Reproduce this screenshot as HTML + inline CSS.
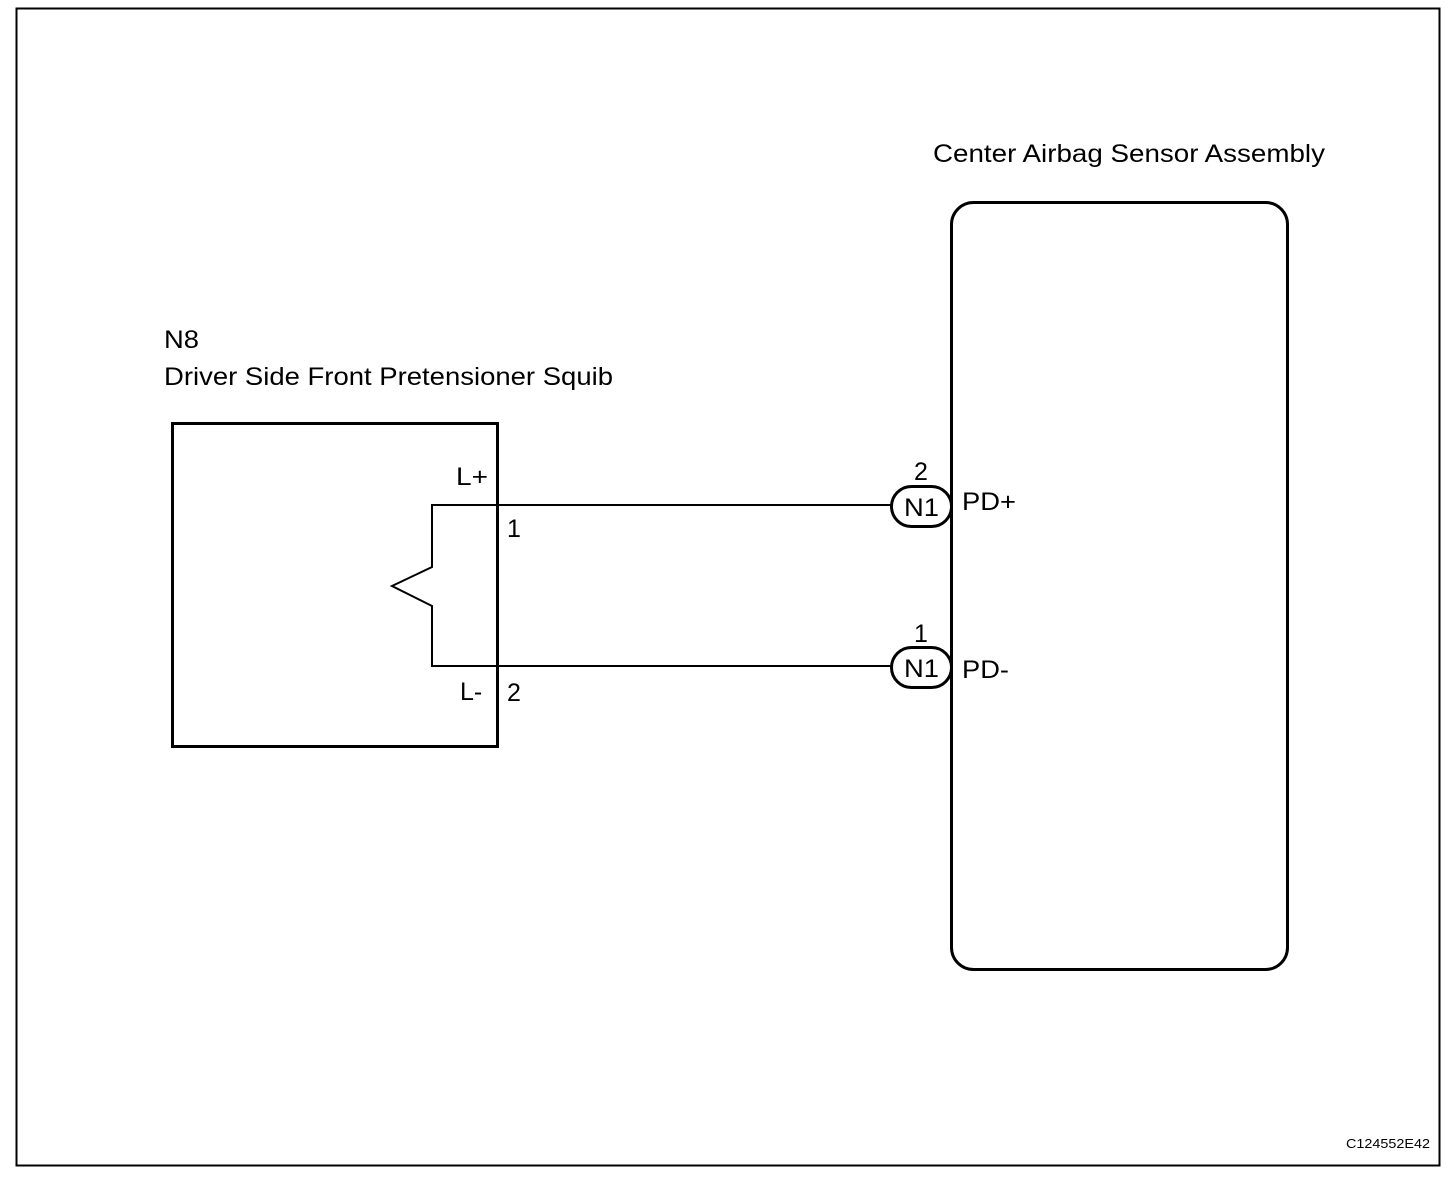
<!DOCTYPE html>
<html><head><style>body{margin:0;background:#fff}</style></head><body>
<svg width="1456" height="1180" xmlns="http://www.w3.org/2000/svg" font-family="Liberation Sans, Arial, sans-serif" font-size="25" fill="#000">
<rect x="0" y="0" width="1456" height="1180" fill="#fff"/>
<rect x="16.5" y="8.5" width="1423" height="1157" fill="none" stroke="#000" stroke-width="2"/>
<text x="933" y="162" textLength="392" lengthAdjust="spacingAndGlyphs">Center Airbag Sensor Assembly</text>
<rect x="951.5" y="202.5" width="336" height="767" rx="22" fill="none" stroke="#000" stroke-width="3"/>
<text x="164" y="348" textLength="35" lengthAdjust="spacingAndGlyphs">N8</text>
<text x="164" y="385" textLength="449" lengthAdjust="spacingAndGlyphs">Driver Side Front Pretensioner Squib</text>
<rect x="172.5" y="423.5" width="325" height="323" fill="none" stroke="#000" stroke-width="3"/>
<polyline points="892,505 432,505 432,567 392,586 432,606 432,666 892,666" fill="none" stroke="#000" stroke-width="2"/>
<rect x="891.5" y="486.5" width="60" height="40" rx="20" fill="#fff" stroke="#000" stroke-width="3"/>
<rect x="891.5" y="647.5" width="60" height="40" rx="20" fill="#fff" stroke="#000" stroke-width="3"/>
<line x1="951.5" y1="480" x2="951.5" y2="700" stroke="#000" stroke-width="3"/>
<text x="904" y="516" textLength="35" lengthAdjust="spacingAndGlyphs">N1</text>
<text x="904" y="677" textLength="35" lengthAdjust="spacingAndGlyphs">N1</text>
<text x="914" y="480">2</text>
<text x="914" y="642">1</text>
<text x="962" y="510" textLength="54" lengthAdjust="spacingAndGlyphs">PD+</text>
<text x="962" y="678" textLength="47" lengthAdjust="spacingAndGlyphs">PD-</text>
<text x="456" y="485" textLength="32" lengthAdjust="spacingAndGlyphs">L+</text>
<text x="460" y="700">L-</text>
<text x="507" y="537">1</text>
<text x="507" y="701">2</text>
<text x="1346" y="1148" font-size="13" textLength="84" lengthAdjust="spacingAndGlyphs">C124552E42</text>
</svg>
</body></html>
